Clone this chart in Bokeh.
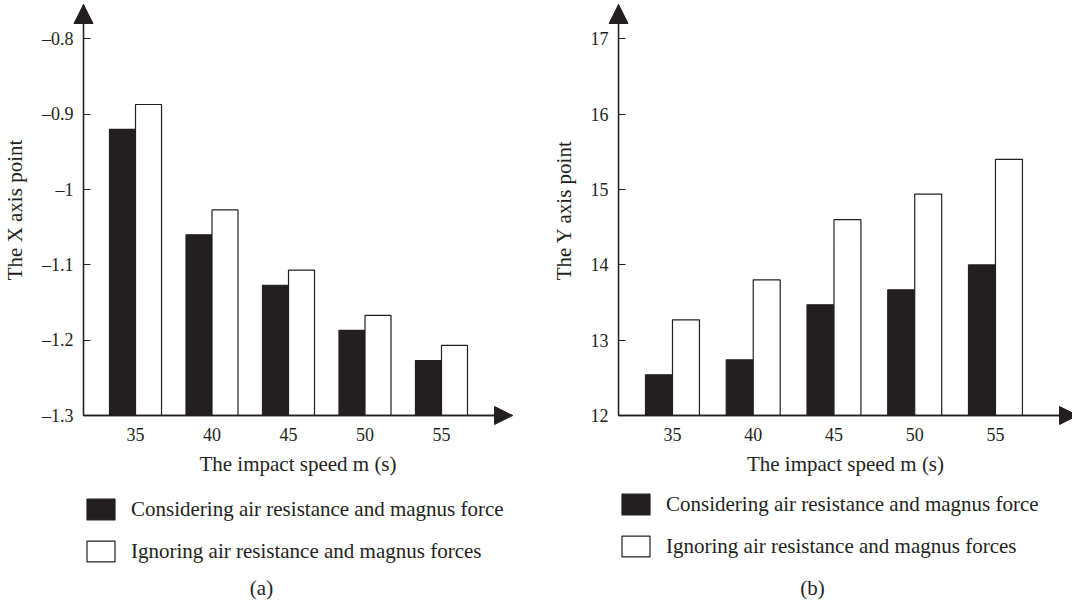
from bokeh.plotting import figure
from bokeh.models import Range1d, FixedTicker, Arrow, NormalHead, Legend, LegendItem, Label, ColumnDataSource
from bokeh.transform import dodge
from bokeh.layouts import row
from bokeh.embed import file_html
from bokeh.resources import INLINE

# ---- data ----
speeds = [35, 40, 45, 50, 55]
x_point_considering = [-0.920, -1.060, -1.127, -1.187, -1.227]
x_point_ignoring = [-0.887, -1.027, -1.107, -1.167, -1.207]
y_point_considering = [12.54, 12.74, 13.47, 13.67, 14.00]
y_point_ignoring = [13.27, 13.80, 14.60, 14.94, 15.40]
x_panel_ticks = [-1.3, -1.2, -1.1, -1.0, -0.9, -0.8]
x_panel_tick_labels = ["\u20131.3", "\u20131.2", "\u20131.1", "\u20131", "\u20130.9", "\u20130.8"]
y_panel_ticks = [12, 13, 14, 15, 16, 17]
y_panel_tick_labels = ["12", "13", "14", "15", "16", "17"]
series_names = ["Considering air resistance and magnus force",
                "Ignoring air resistance and magnus forces"]

INK = "#231f20"
FONT = "Liberation Serif"
TICK_FS = "18px"
FS = "21px"
W, H = 536, 605


def make_panel(cons, ign, ticks, tick_labels, ylabel, caption,
               view_x, view_y, axis_x, axis_x_end, arrow_x_end, base, arrow_y_end,
               bar_w, legend_loc, caption_xy):
    src = ColumnDataSource(dict(speed=speeds, cons=cons, ign=ign))
    p = figure(frame_width=W, frame_height=H, output_backend="svg", toolbar_location=None,
               x_range=Range1d(*view_x), y_range=Range1d(*view_y), min_border=0)
    p.outline_line_color = None
    p.grid.visible = False
    p.background_fill_color = "white"
    p.border_fill_color = "white"

    r1 = p.vbar(x=dodge("speed", -bar_w / 2), top="cons", bottom=base, width=bar_w,
                source=src, fill_color=INK, line_color=INK, line_width=1.2)
    r2 = p.vbar(x=dodge("speed", bar_w / 2), top="ign", bottom=base, width=bar_w,
                source=src, fill_color="white", line_color=INK, line_width=1.2)

    xa = p.xaxis[0]
    xa.fixed_location = base
    xa.bounds = (axis_x, axis_x_end)
    xa.ticker = FixedTicker(ticks=speeds)
    xa.major_tick_in = 0
    xa.major_tick_out = 0
    xa.minor_tick_line_color = None
    xa.axis_line_color = INK
    xa.axis_line_width = 1.3
    xa.major_label_standoff = 12
    xa.axis_label = "The impact speed m (s)"
    xa.axis_label_standoff = 8

    ya = p.yaxis[0]
    ya.fixed_location = axis_x
    ya.bounds = (base, arrow_y_end)
    ya.ticker = FixedTicker(ticks=ticks)
    ya.major_label_overrides = dict(zip(ticks, tick_labels))
    ya.major_tick_in = 7
    ya.major_tick_out = 0
    ya.minor_tick_line_color = None
    ya.major_tick_line_color = INK
    ya.axis_line_color = INK
    ya.axis_line_width = 1.3
    ya.major_label_standoff = 10
    ya.axis_label = ylabel
    ya.axis_label_standoff = 12

    for ax in (xa, ya):
        ax.major_label_text_font = FONT
        ax.major_label_text_font_size = TICK_FS
        ax.major_label_text_color = INK
        ax.axis_label_text_font = FONT
        ax.axis_label_text_font_size = FS
        ax.axis_label_text_font_style = "normal"
        ax.axis_label_text_color = INK

    p.add_layout(Arrow(end=NormalHead(size=19, fill_color=INK, line_color=INK),
                       x_start=axis_x, y_start=base, x_end=axis_x, y_end=arrow_y_end,
                       line_color=INK, line_width=1.3))
    p.add_layout(Arrow(end=NormalHead(size=18, fill_color=INK, line_color=INK),
                       x_start=axis_x, y_start=base, x_end=arrow_x_end, y_end=base,
                       line_color=INK, line_width=1.3))

    legend = Legend(items=[LegendItem(label=series_names[0], renderers=[r1]),
                           LegendItem(label=series_names[1], renderers=[r2])],
                    location=legend_loc, orientation="vertical",
                    glyph_width=35, glyph_height=26, label_standoff=13, spacing=16,
                    padding=0, margin=0, border_line_alpha=0, background_fill_alpha=0,
                    label_text_font=FONT, label_text_font_size=FS, label_text_color=INK)
    p.add_layout(legend, "center")

    p.add_layout(Label(text=caption, x=caption_xy[0], y=caption_xy[1],
                       x_units="screen", y_units="screen",
                       text_align="center", text_baseline="middle", text_font=FONT,
                       text_font_size=FS, text_color=INK))
    return p


pa = make_panel(x_point_considering, x_point_ignoring, x_panel_ticks, x_panel_tick_labels,
                "The X axis point", "(a)",
                view_x=(26.175, 61.21), view_y=(-1.5523, -0.7489),
                axis_x=31.6, axis_x_end=59.64, arrow_x_end=59.64,
                base=-1.3, arrow_y_end=-0.7542, bar_w=1.7,
                legend_loc=(83, 41), caption_xy=(261, 18))
pb = make_panel(y_point_considering, y_point_ignoring, y_panel_ticks, y_panel_tick_labels,
                "The Y axis point", "(b)",
                view_x=(26.58, 59.77), view_y=(9.477, 17.511),
                axis_x=31.66, axis_x_end=60.08, arrow_x_end=60.08,
                base=12.0, arrow_y_end=17.458, bar_w=1.67,
                legend_loc=(82, 46), caption_xy=(276, 18))

layout = row(pa, pb, spacing=0)
open("out.html", "w").write(file_html(layout, INLINE))
